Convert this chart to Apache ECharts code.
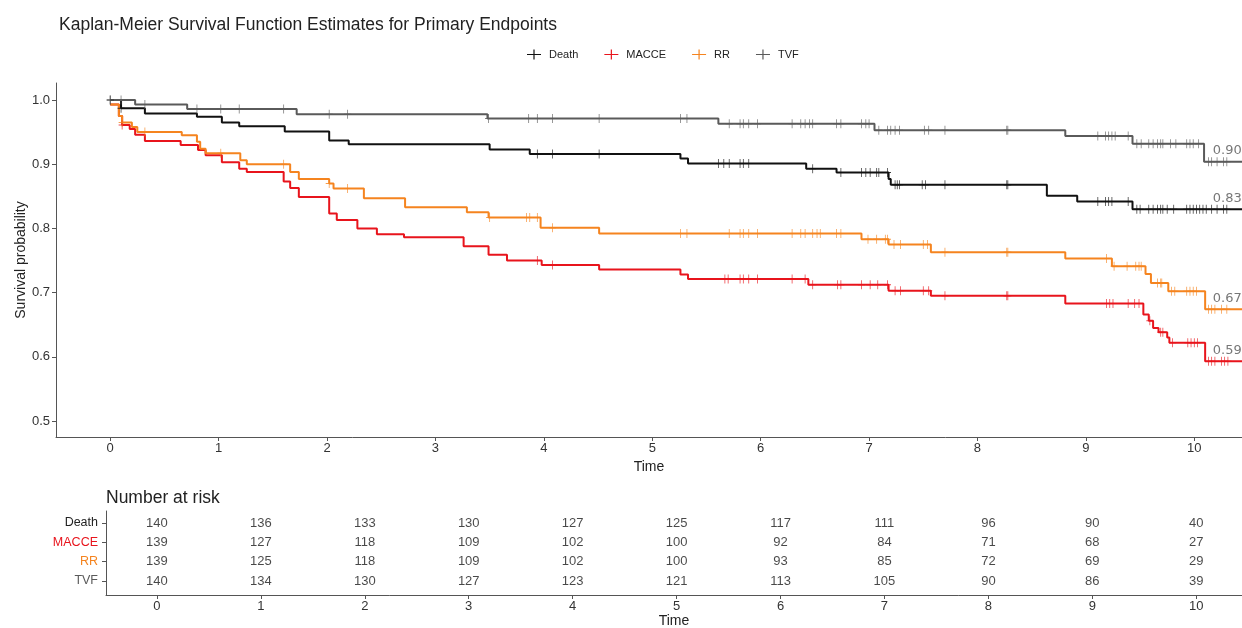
<!DOCTYPE html>
<html><head><meta charset="utf-8">
<script src="https://cdn.jsdelivr.net/npm/echarts@6/dist/echarts.min.js"></script>
<style>html,body{margin:0;padding:0;background:#fff}#c{width:1242px;height:628px}</style>
</head><body><div id="c"></div>
<script>
// ---------------- data ----------------
const groups = ['Death', 'MACCE', 'RR', 'TVF'];

const deathTimes = [0, 0.10, 0.32, 0.80, 1.03, 1.19, 1.61, 2.02, 2.20, 3.50, 3.87, 5.26, 5.33, 6.42, 6.70, 7.18, 7.20, 8.64, 8.92, 9.43];
const deathSurv  = [1.0, 0.987, 0.979, 0.974, 0.965, 0.959, 0.951, 0.937, 0.931, 0.923, 0.916, 0.909, 0.901, 0.893, 0.887, 0.877, 0.868, 0.851, 0.842, 0.830];
const deathCensor = [0.0, 0.10, 3.94, 4.08, 4.51, 5.61, 5.66, 5.71, 5.81, 5.84, 5.89, 6.48, 6.74, 6.93, 6.97, 7.01, 7.07, 7.09, 7.17, 7.24, 7.26, 7.28, 7.49, 7.52, 7.70, 8.27, 8.28, 9.11, 9.18, 9.21, 9.24, 9.39, 9.47, 9.50, 9.58, 9.62, 9.66, 9.69, 9.71, 9.75, 9.81, 9.93, 9.96, 9.99, 10.02, 10.05, 10.08, 10.11, 10.16, 10.21, 10.27, 10.30];

const macceTimes = [0, 0.08, 0.11, 0.18, 0.23, 0.32, 0.65, 0.81, 0.88, 1.03, 1.19, 1.26, 1.60, 1.66, 1.74, 2.02, 2.09, 2.28, 2.46, 2.71, 3.26, 3.49, 3.66, 3.98, 4.51, 5.26, 5.33, 6.44, 7.18, 7.57, 8.81, 9.53, 9.58, 9.62, 9.67, 9.75, 9.77, 10.10];
const macceSurv  = [0.993, 0.975, 0.961, 0.955, 0.946, 0.936, 0.930, 0.922, 0.914, 0.903, 0.893, 0.888, 0.873, 0.863, 0.849, 0.823, 0.813, 0.800, 0.791, 0.786, 0.772, 0.759, 0.750, 0.743, 0.736, 0.728, 0.721, 0.712, 0.703, 0.695, 0.683, 0.666, 0.656, 0.645, 0.638, 0.630, 0.622, 0.593];
const macceCensor = [0.11, 3.94, 4.08, 5.67, 5.70, 5.81, 5.84, 5.89, 5.97, 6.29, 6.41, 6.48, 6.71, 6.74, 6.93, 7.01, 7.08, 7.17, 7.24, 7.29, 7.50, 7.55, 7.70, 8.27, 8.28, 9.19, 9.22, 9.25, 9.39, 9.45, 9.49, 9.59, 9.69, 9.71, 9.80, 9.94, 9.97, 10.00, 10.03, 10.13, 10.16, 10.19, 10.25, 10.28, 10.31];

const rrTimes = [0, 0.08, 0.11, 0.20, 0.25, 0.66, 0.80, 0.83, 0.88, 1.20, 1.26, 1.66, 1.74, 2.02, 2.06, 2.34, 2.72, 3.29, 3.49, 3.97, 4.51, 6.93, 7.18, 7.57, 8.81, 9.24, 9.55, 9.60, 9.76, 10.10];
const rrSurv  = [0.993, 0.975, 0.965, 0.958, 0.950, 0.945, 0.935, 0.924, 0.917, 0.906, 0.900, 0.888, 0.877, 0.870, 0.862, 0.847, 0.833, 0.825, 0.817, 0.801, 0.792, 0.783, 0.775, 0.763, 0.753, 0.741, 0.729, 0.715, 0.702, 0.674];
const rrCensor = [0.11, 0.32, 1.02, 1.60, 2.02, 2.19, 3.50, 3.84, 3.87, 3.94, 4.08, 5.26, 5.32, 5.71, 5.81, 5.84, 5.89, 5.97, 6.29, 6.37, 6.41, 6.48, 6.52, 6.55, 6.70, 6.74, 6.99, 7.07, 7.15, 7.17, 7.23, 7.29, 7.50, 7.54, 7.70, 8.27, 8.28, 9.19, 9.26, 9.38, 9.46, 9.49, 9.51, 9.66, 9.69, 9.70, 9.79, 9.82, 9.93, 9.96, 9.99, 10.02, 10.13, 10.16, 10.19, 10.25, 10.30];

const tvfTimes = [0, 0.23, 0.71, 1.72, 3.48, 5.61, 7.05, 8.81, 9.43, 10.09];
const tvfSurv  = [1.0, 0.993, 0.986, 0.978, 0.971, 0.963, 0.953, 0.944, 0.932, 0.904];
const tvfCensor = [0.0, 0.10, 0.32, 0.80, 1.02, 1.19, 1.60, 2.02, 2.19, 3.49, 3.86, 3.94, 4.08, 4.51, 5.26, 5.32, 5.71, 5.81, 5.84, 5.89, 5.97, 6.29, 6.37, 6.41, 6.45, 6.48, 6.70, 6.74, 6.93, 6.97, 7.00, 7.09, 7.17, 7.20, 7.24, 7.28, 7.51, 7.55, 7.70, 8.27, 8.28, 9.11, 9.18, 9.21, 9.24, 9.27, 9.39, 9.47, 9.51, 9.58, 9.62, 9.66, 9.69, 9.71, 9.78, 9.83, 9.93, 9.96, 9.99, 10.04, 10.13, 10.16, 10.21, 10.27, 10.30];

const followUpEnd = 10.44;

const riskTimes = [0, 1, 2, 3, 4, 5, 6, 7, 8, 9, 10];
const riskDeath = [140, 136, 133, 130, 127, 125, 117, 111, 96, 90, 40];
const riskMACCE = [139, 127, 118, 109, 102, 100, 92, 84, 71, 68, 27];
const riskRR    = [139, 125, 118, 109, 102, 100, 93, 85, 72, 69, 29];
const riskTVF   = [140, 134, 130, 127, 123, 121, 113, 105, 90, 86, 39];

const xTicks = [0, 1, 2, 3, 4, 5, 6, 7, 8, 9, 10];
const yTicks = [0.5, 0.6, 0.7, 0.8, 0.9, 1.0];

// ---------------- styling ----------------
const colors = { Death: '#111111', MACCE: '#e8141c', RR: '#f5841f', TVF: '#5a5a5a' };
const FONT = '"Liberation Sans", Arial, sans-serif';
const axisCol = '#555555';
const plusPath = 'path://M4,0h1v4h4v1h-4v4h-1v-4h-4v-1h4z';
const legendIcon = 'path://M0,4.4H6.4V0H7.6V4.4H14V5.6H7.6V10H6.4V5.6H0Z';

const curves = {
  Death: { t: deathTimes, s: deathSurv, c: deathCensor, r: riskDeath },
  MACCE: { t: macceTimes, s: macceSurv, c: macceCensor, r: riskMACCE },
  RR:    { t: rrTimes, s: rrSurv, c: rrCensor, r: riskRR },
  TVF:   { t: tvfTimes, s: tvfSurv, c: tvfCensor, r: riskTVF }
};
function survAt(g, x) {
  const d = curves[g]; let v = d.s[0];
  for (let i = 0; i < d.t.length; i++) { if (d.t[i] <= x) v = d.s[i]; else break; }
  return v;
}
const rowVal = { Death: 4, MACCE: 3, RR: 2, TVF: 1 };
const labelT = 10.17;

const series = [];
groups.forEach(g => {
  const d = curves[g];
  const pts = d.t.map((t, i) => [t, d.s[i]]);
  pts.push([followUpEnd, d.s[d.s.length - 1]]);
  series.push({
    name: g, type: 'line', step: 'end', data: pts, showSymbol: false, symbol: 'none',
    xAxisIndex: 0, yAxisIndex: 0, lineStyle: { color: colors[g], width: 2 }, itemStyle: { color: colors[g] },
    silent: true, z: 3, animation: false
  });
  series.push({
    name: g + ' censor', type: 'scatter', data: d.c.map(t => [t, survAt(g, t)]),
    symbol: plusPath, symbolSize: [7, 9], itemStyle: { color: colors[g] },
    xAxisIndex: 0, yAxisIndex: 0, silent: true, z: 4, animation: false
  });
  series.push({
    name: g + ' end', type: 'scatter', data: [[labelT, d.s[d.s.length - 1]]], symbolSize: 0,
    xAxisIndex: 0, yAxisIndex: 0, silent: true, animation: false,
    label: { show: true, position: 'right', distance: 0, offset: [0, -11], formatter: p => p.value[1].toFixed(2),
      color: '#555', fontSize: 13, fontFamily: '"DejaVu Sans", sans-serif' }
  });
  series.push({
    name: g + ' risk', type: 'scatter', data: riskTimes.map((t, i) => [t, rowVal[g], d.r[i]]), symbolSize: 0,
    xAxisIndex: 1, yAxisIndex: 1, silent: true, animation: false,
    label: { show: true, position: 'inside', formatter: p => String(p.value[2]), color: '#1a1a1a', fontSize: 13, fontFamily: FONT }
  });
});

const option = {
  backgroundColor: '#ffffff',
  animation: false,
  textStyle: { fontFamily: FONT },
  title: [
    { text: 'Kaplan-Meier Survival Function Estimates for Primary Endpoints', left: 54, top: 11,
      textStyle: { fontSize: 17.5, fontWeight: 'normal', color: '#222', fontFamily: FONT } },
    { text: 'Number at risk', left: 101, top: 484,
      textStyle: { fontSize: 17.5, fontWeight: 'normal', color: '#222', fontFamily: FONT } }
  ],
  legend: {
    left: 527, top: 49, itemGap: 26, itemWidth: 14, itemHeight: 10, padding: 0,
    data: groups.map(g => ({ name: g, icon: legendIcon, itemStyle: { color: colors[g] } })),
    textStyle: { fontSize: 11, color: '#222', fontFamily: FONT, padding: [0, 0, 0, 3] },
    selectedMode: false
  },
  grid: [
    { left: 56, right: 0, top: 83, height: 354, outerBoundsMode: 'none', containLabel: false },
    { left: 106, right: 0, top: 511, height: 84, outerBoundsMode: 'none', containLabel: false }
  ],
  xAxis: [
    { type: 'value', gridIndex: 0, min: -0.5, max: followUpEnd, name: 'Time', nameLocation: 'middle', nameGap: 22,
      nameTextStyle: { fontSize: 14, color: '#222' },
      axisLine: { show: true, onZero: false, lineStyle: { color: axisCol, width: 1 } },
      axisTick: { show: true, length: 4, customValues: xTicks, lineStyle: { color: axisCol } },
      axisLabel: { customValues: xTicks, margin: 5, fontSize: 13, color: '#333' },
      splitLine: { show: false } },
    { type: 'value', gridIndex: 1, min: -0.49, max: followUpEnd, name: 'Time', nameLocation: 'middle', nameGap: 19,
      nameTextStyle: { fontSize: 14, color: '#222' },
      axisLine: { show: true, onZero: false, lineStyle: { color: axisCol, width: 1 } },
      axisTick: { show: true, length: 4, customValues: xTicks, lineStyle: { color: axisCol } },
      axisLabel: { customValues: xTicks, margin: 5, fontSize: 13, color: '#333' },
      splitLine: { show: false } }
  ],
  yAxis: [
    { type: 'value', gridIndex: 0, min: 0.475, max: 1.0265, name: 'Survival probability', nameLocation: 'middle',
      nameGap: 28, nameMoveOverlap: false, nameRotate: 90, nameTextStyle: { fontSize: 14, color: '#222' },
      axisLine: { show: true, onZero: false, lineStyle: { color: axisCol, width: 1 } },
      axisTick: { show: true, length: 4, customValues: yTicks, lineStyle: { color: axisCol } },
      axisLabel: { customValues: yTicks, margin: 6, fontSize: 13, color: '#333', formatter: v => v.toFixed(1) },
      splitLine: { show: false } },
    { type: 'value', gridIndex: 1, min: 0.276, max: 4.62,
      axisLine: { show: true, onZero: false, lineStyle: { color: axisCol, width: 1 } },
      axisTick: { show: true, length: 4, customValues: [1, 2, 3, 4], lineStyle: { color: axisCol } },
      axisLabel: { customValues: [1, 2, 3, 4], margin: 8, fontSize: 12.5,
        formatter: v => { const g = groups[4 - Math.round(v)]; return '{' + g + '|' + g + '}'; },
        rich: { Death: { color: '#222', fontSize: 12.5 }, MACCE: { color: colors.MACCE, fontSize: 12.5 },
                RR: { color: colors.RR, fontSize: 12.5 }, TVF: { color: colors.TVF, fontSize: 12.5 } } },
      splitLine: { show: false } }
  ],
  series: series
};
const chart = echarts.init(document.getElementById('c'), null, { renderer: 'canvas' });
chart.setOption(option);
</script></body></html>
